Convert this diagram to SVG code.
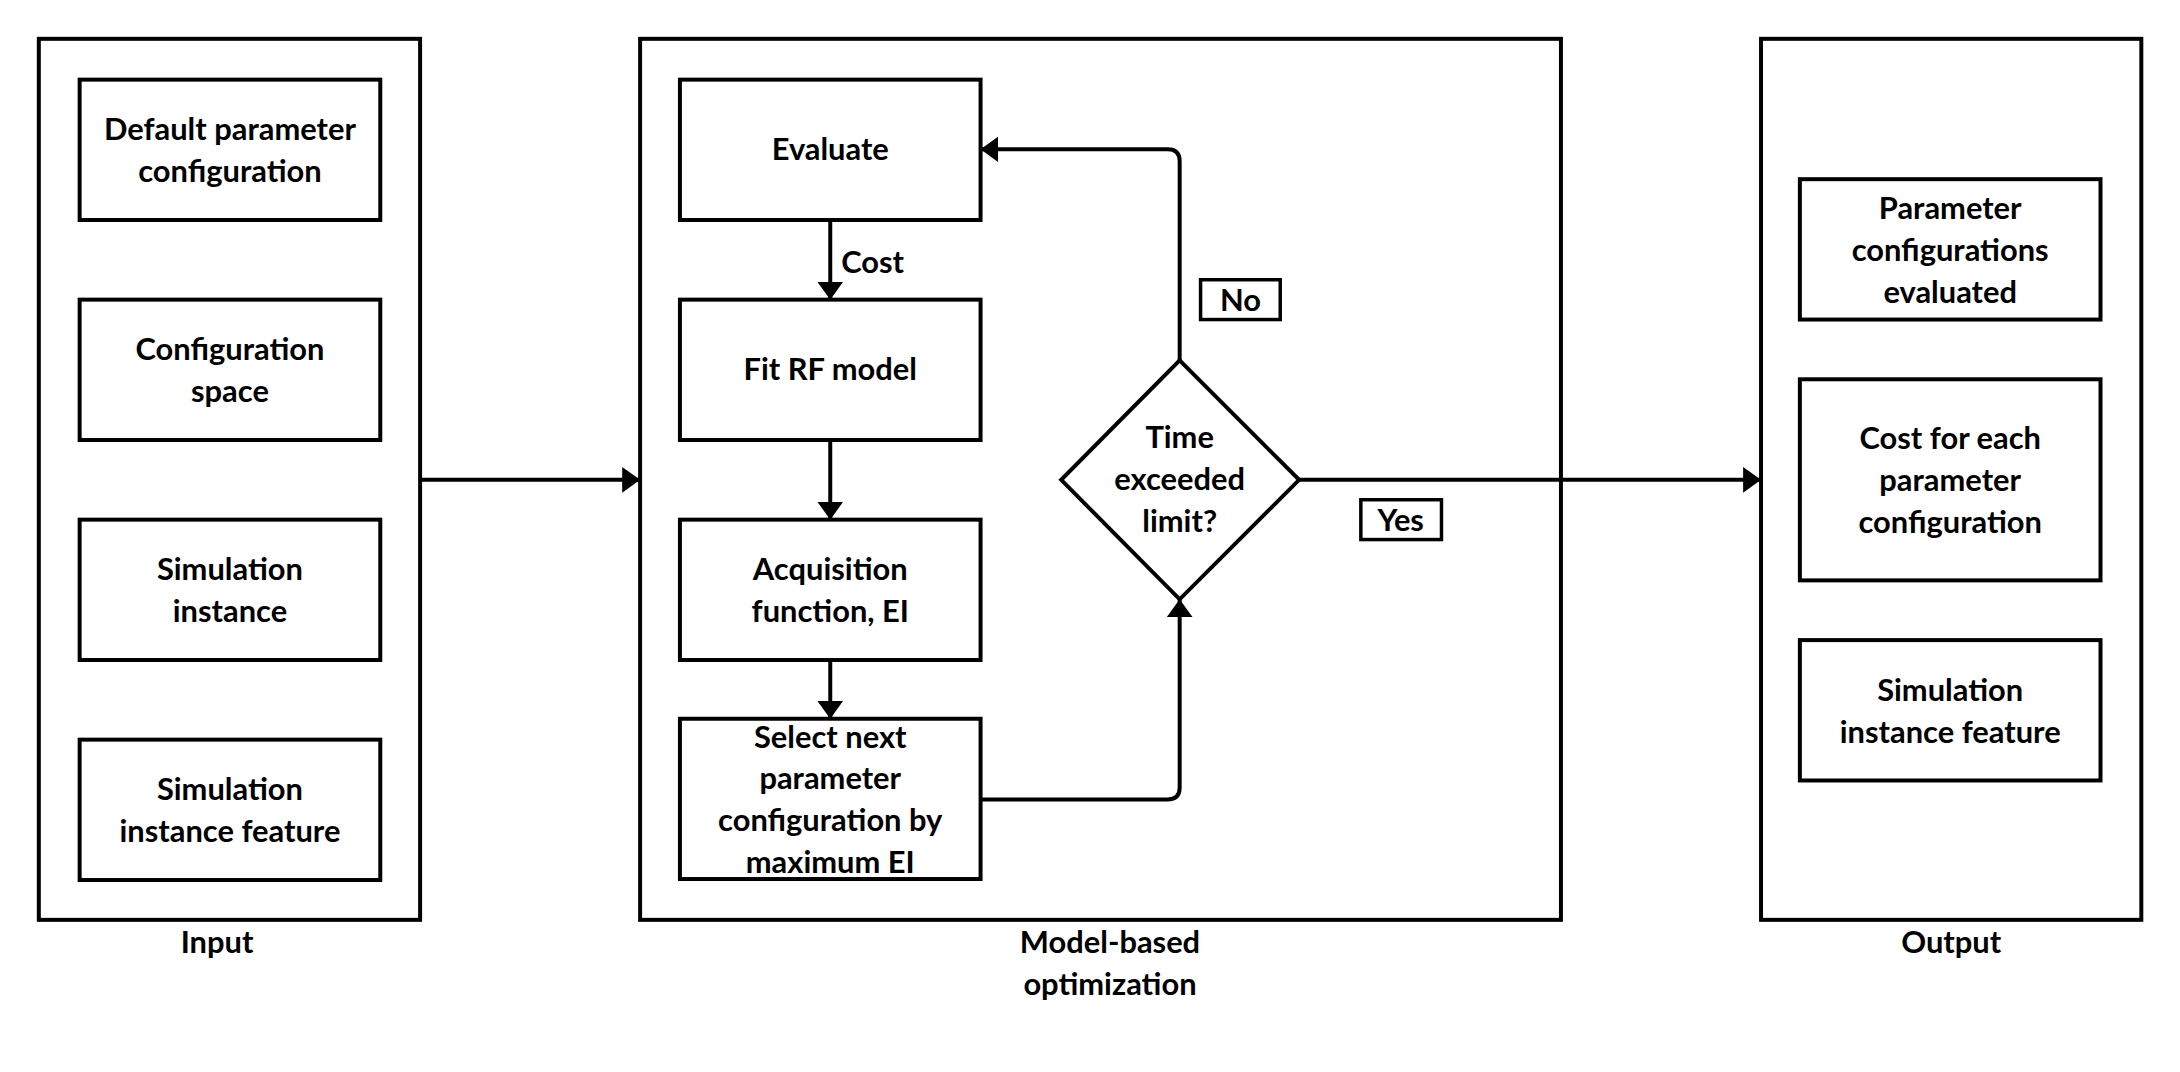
<svg xmlns="http://www.w3.org/2000/svg" width="2180" height="1072" viewBox="0 0 2180 1072">
<style>
.box{fill:#fff;stroke:#000;stroke-width:4}
.cont{fill:none;stroke:#000;stroke-width:4}
.t{font-family:Lato,"Liberation Sans",sans-serif;font-weight:bold;font-size:31px;fill:#000;text-anchor:middle}
.tl{font-family:Lato,"Liberation Sans",sans-serif;font-weight:bold;font-size:31px;fill:#000}
.c{fill:none;stroke:#000;stroke-width:4}
</style>
<defs>
<marker id="ah" markerUnits="userSpaceOnUse" markerWidth="20" markerHeight="28" refX="18" refY="14" orient="auto">
<path d="M0,1 L18,14 L0,27 z" fill="#000"/>
</marker>
</defs>
<rect width="2180" height="1072" fill="#fff"/>
<g transform="scale(0.9955)">
<g id="input">
<rect class="cont" x="39" y="39" width="383" height="885"/>
<text class="t" x="218" y="957">Input</text>
</g>
<g id="mbo">
<rect class="cont" x="643" y="39" width="925" height="885"/>
<text class="t" x="1115" y="957">Model-based</text>
<text class="t" x="1115" y="999">optimization</text>
</g>
<g id="output">
<rect class="cont" x="1769" y="39" width="382" height="885"/>
<text class="t" x="1960" y="957">Output</text>
</g>
<g id="default-param">
<rect class="box" x="80" y="80" width="302" height="141"/>
<text class="t" x="231" y="141">Default parameter</text>
<text class="t" x="231" y="183">configuration</text>
</g>
<g id="config-space">
<rect class="box" x="80" y="301" width="302" height="141"/>
<text class="t" x="231" y="362">Configuration</text>
<text class="t" x="231" y="404">space</text>
</g>
<g id="sim-instance">
<rect class="box" x="80" y="522" width="302" height="141"/>
<text class="t" x="231" y="583">Simulation</text>
<text class="t" x="231" y="625">instance</text>
</g>
<g id="sim-feature-in">
<rect class="box" x="80" y="743" width="302" height="141"/>
<text class="t" x="231" y="804">Simulation</text>
<text class="t" x="231" y="846">instance feature</text>
</g>
<g id="evaluate">
<rect class="box" x="683" y="80" width="302" height="141"/>
<text class="t" x="834" y="161">Evaluate</text>
</g>
<g id="fit-rf">
<rect class="box" x="683" y="301" width="302" height="141"/>
<text class="t" x="834" y="382">Fit RF model</text>
</g>
<g id="acquisition">
<rect class="box" x="683" y="522" width="302" height="141"/>
<text class="t" x="834" y="583">Acquisition</text>
<text class="t" x="834" y="625">function, EI</text>
</g>
<g id="select-next">
<rect class="box" x="683" y="722" width="302" height="161"/>
<text class="t" x="834" y="751">Select next</text>
<text class="t" x="834" y="793">parameter</text>
<text class="t" x="834" y="835">configuration by</text>
<text class="t" x="834" y="877">maximum EI</text>
</g>
<g id="time-limit">
<polygon class="box" points="1185,362 1305,482 1185,602 1066,482"/>
<text class="t" x="1185" y="450">Time</text>
<text class="t" x="1185" y="492">exceeded</text>
<text class="t" x="1185" y="534">limit?</text>
</g>
<g id="param-evaluated">
<rect class="box" x="1808" y="180" width="302" height="141"/>
<text class="t" x="1959" y="220">Parameter</text>
<text class="t" x="1959" y="262">configurations</text>
<text class="t" x="1959" y="304">evaluated</text>
</g>
<g id="cost-each">
<rect class="box" x="1808" y="381" width="302" height="202"/>
<text class="t" x="1959" y="451">Cost for each</text>
<text class="t" x="1959" y="493">parameter</text>
<text class="t" x="1959" y="535">configuration</text>
</g>
<g id="sim-feature-out">
<rect class="box" x="1808" y="643" width="302" height="141"/>
<text class="t" x="1959" y="704">Simulation</text>
<text class="t" x="1959" y="746">instance feature</text>
</g>
<g id="connectors">
<path class="c" d="M422,482 L643,482" marker-end="url(#ah)"/>
<path class="c" d="M834,221 L834,301" marker-end="url(#ah)"/>
<path class="c" d="M834,442 L834,522" marker-end="url(#ah)"/>
<path class="c" d="M834,663 L834,722" marker-end="url(#ah)"/>
<path class="c" d="M985,803 L1173,803 Q1185,803 1185,791 L1185,602" marker-end="url(#ah)"/>
<path class="c" d="M1185,362 L1185,162 Q1185,150 1173,150 L985,150" marker-end="url(#ah)"/>
<path class="c" d="M1305,482 L1769,482" marker-end="url(#ah)"/>
<text class="tl" x="845" y="274">Cost</text>
<rect class="box" x="1206" y="281" width="80" height="40" style="stroke-width:3.5"/>
<text class="t" x="1246" y="312">No</text>
<rect class="box" x="1367" y="502" width="81" height="40" style="stroke-width:3.5"/>
<text class="t" x="1407" y="533">Yes</text>
</g>
</g>
</svg>
